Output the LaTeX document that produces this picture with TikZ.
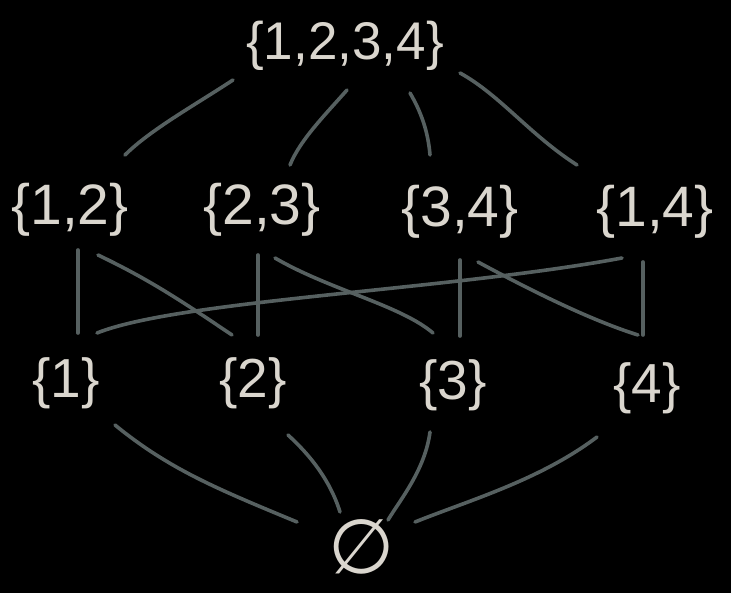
\documentclass[tikz,border=0pt]{standalone}
\usepackage{fontspec}
\setmainfont{Liberation Sans}
\newfontfamily\symfont{DejaVu Sans}
\definecolor{txtc}{HTML}{DAD6CE}
\definecolor{linec}{HTML}{566060}
\tikzset{
  setnode/.style={text=txtc, inner sep=0pt, font=\fontsize{55}{55}\selectfont},
  edge/.style={draw=linec, line width=3.6pt, line cap=round},
}
\begin{document}
\begin{tikzpicture}[x=1pt,y=-1pt]
\fill[black] (0,0) rectangle (731,593);
\useasboundingbox (0,0) rectangle (731,593);
% nodes
\node[setnode, font=\fontsize{53}{53}\selectfont] (top) at (345,46) {\{1,2,3,4\}};
\node[setnode, font=\fontsize{57}{57}\selectfont] (n12) at (70,210) {\{1,2\}};
\node[setnode, font=\fontsize{57}{57}\selectfont] (n23) at (262,210) {\{2,3\}};
\node[setnode, font=\fontsize{57}{57}\selectfont] (n34) at (460,212) {\{3,4\}};
\node[setnode, font=\fontsize{57}{57}\selectfont] (n14) at (655,212) {\{1,4\}};
\node[setnode] (n1) at (66,383) {\{1\}};
\node[setnode] (n2) at (253,383) {\{2\}};
\node[setnode] (n3) at (453,385) {\{3\}};
\node[setnode] (n4) at (647,388) {\{4\}};
\node[setnode, font=\symfont\fontsize{76}{76}\selectfont] (e) at (362,547) {∅};
% top to pairs
\draw[edge] ([shift={(-112,34)}]top.center) .. controls (195,105) and (150,130) .. ([shift={(55,-55)}]n12.center);
\draw[edge] ([shift={(2,44)}]top.center) .. controls (325,115) and (300,140) .. ([shift={(28,-45)}]n23.center);
\draw[edge] ([shift={(65,47)}]top.center) .. controls (420,110) and (428,130) .. ([shift={(-30,-57)}]n34.center);
\draw[edge] ([shift={(115,27)}]top.center) .. controls (500,95) and (530,135) .. ([shift={(-78,-47)}]n14.center);
% pairs to singles
\draw[edge] ([shift={(8,40)}]n12.center) -- ([shift={(12,-50)}]n1.center);
\draw[edge] ([shift={(28,45)}]n12.center) .. controls (150,280) and (180,300) .. ([shift={(-21,-48)}]n2.center);
\draw[edge] ([shift={(-4,45)}]n23.center) -- ([shift={(5,-48)}]n2.center);
\draw[edge] ([shift={(13,48)}]n23.center) .. controls (330,290) and (400,305) .. ([shift={(-20,-52)}]n3.center);
\draw[edge] ([shift={(0,48)}]n34.center) -- ([shift={(7,-49)}]n3.center);
\draw[edge] ([shift={(18,50)}]n34.center) .. controls (530,290) and (590,320) .. ([shift={(-9,-53)}]n4.center);
\draw[edge] ([shift={(-12,50)}]n14.center) -- ([shift={(-4,-53)}]n4.center);
\draw[edge] ([shift={(31,-50)}]n1.center) .. controls (180,300) and (450,290) .. ([shift={(-33,46)}]n14.center);
% singles to empty set
\draw[edge] ([shift={(49,42)}]n1.center) .. controls (170,470) and (220,490) .. ([shift={(-65,-25)}]e.center);
\draw[edge] ([shift={(35,52)}]n2.center) .. controls (310,455) and (330,480) .. ([shift={(-22,-35)}]e.center);
\draw[edge] ([shift={(-23,47)}]n3.center) .. controls (425,470) and (400,500) .. ([shift={(26,-27)}]e.center);
\draw[edge] ([shift={(-50,49)}]n4.center) .. controls (540,480) and (470,500) .. ([shift={(53,-25)}]e.center);
\end{tikzpicture}
\end{document}
